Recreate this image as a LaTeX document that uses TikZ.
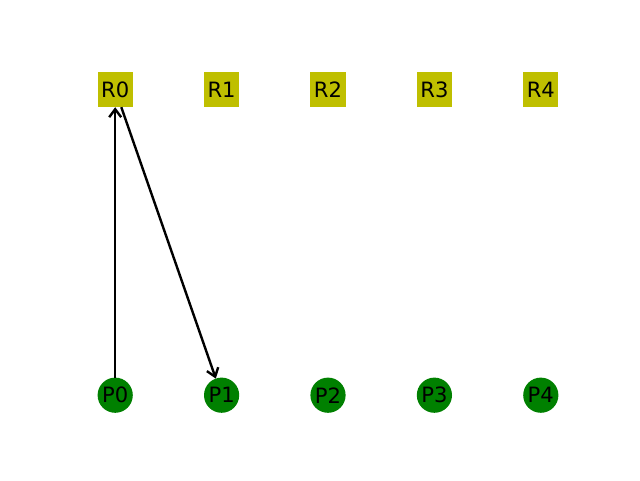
\documentclass[tikz,border=0pt]{standalone}
\usepackage{fontspec}
\setmainfont{DejaVu Sans}
\usepackage{tikz}
\usetikzlibrary{shapes,arrows.meta}
\definecolor{rcolor}{rgb}{0.75,0.75,0}
\definecolor{pcolor}{rgb}{0,0.5,0}
\begin{document}
\begin{tikzpicture}[scale=1]
		\tikzstyle{resource}=[rectangle,fill=rcolor,inner sep=0pt,outer sep=0pt,minimum width=0.88cm,minimum height=0.88cm,font=\fontsize{15}{18}\selectfont]
		\tikzstyle{process}=[circle,fill=pcolor,inner sep=0pt,outer sep=0pt,minimum size=0.88cm,font=\fontsize{15}{18}\selectfont]
		\tikzstyle{edge}=[line width=0.06cm,-{Straight Barb[length=0.2cm,width=0.3cm,line width=0.06cm]}]
		
		\useasboundingbox (0,0) rectangle (16,12);
		
		\node[resource] (r0) at (2.88,9.76) {R0};
		\node[resource] (r1) at (5.54,9.76) {R1};
		\node[resource] (r2) at (8.2,9.76) {R2};
		\node[resource] (r3) at (10.86,9.76) {R3};
		\node[resource] (r4) at (13.52,9.76) {R4};
		
		\node[process] (p0) at (2.88,2.12) {P0};
		\node[process] (p1) at (5.54,2.12) {P1};
		\node[process] (p2) at (8.2,2.12) {P2};
		\node[process] (p3) at (10.86,2.12) {P3};
		\node[process] (p4) at (13.52,2.12) {P4};
		
		\draw[edge] (p0) -- (r0);
		\draw[edge] (r0) -- (p1);
		
		\end{tikzpicture}
\end{document}
